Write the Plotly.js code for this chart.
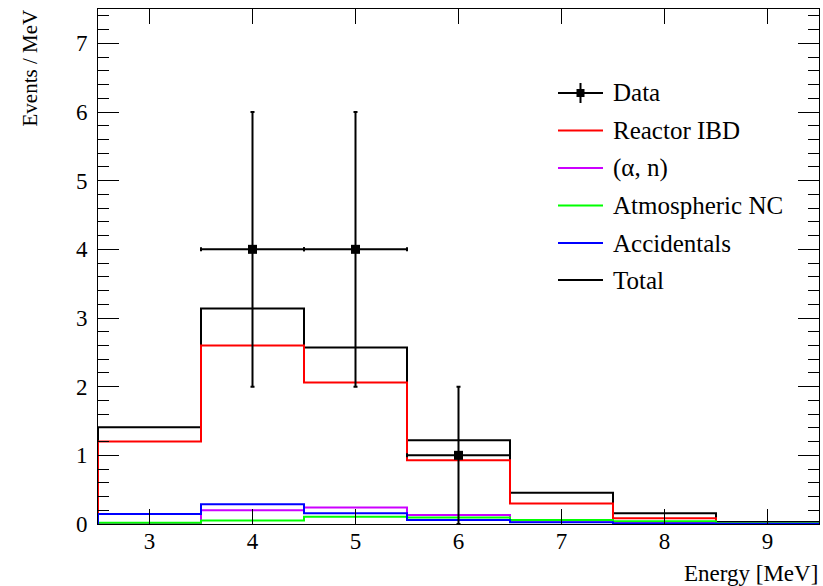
<!DOCTYPE html>
<html>
<head>
<meta charset="utf-8">
<script src="https://cdn.plot.ly/plotly-3.0.1.min.js"></script>
<style>html,body{margin:0;padding:0;background:#fff;}#chart{width:823px;height:586px;}</style>
</head>
<body>
<div id="chart"></div>
<script>
// Bin edges (MeV)
const binEdges = [2.5, 3.5, 4.5, 5.5, 6.5, 7.5, 8.5, 9.5];
// Histogram contents (Events / MeV) per bin
const totalVals     = [1.41, 3.14, 2.57, 1.22, 0.456, 0.156, 0.03];
const reactorVals   = [1.20, 2.60, 2.06, 0.93, 0.30, 0.083, 0.012];
const alphaNVals    = [0.01, 0.20, 0.24, 0.13, 0.05, 0.03, 0.008];
const atmNCVals     = [0.02, 0.05, 0.106, 0.095, 0.058, 0.04, 0.01];
const accidVals     = [0.146, 0.287, 0.156, 0.058, 0.025, 0.008, 0.004];
// Data points
const dataX    = [4, 5, 6];
const dataY    = [4, 4, 1];
const dataErrY = [2, 2, 1];
const dataErrX = [0.5, 0.5, 0.5];
// Legend labels
const legendNames = ["Data", "Reactor IBD", "(\u03B1, n)", "Atmospheric NC", "Accidentals", "Total"];
const legendColors = ["#000000", "#ff0000", "#cc00ff", "#00ff00", "#0000ff", "#000000"];

const FONT = "'Liberation Serif', 'Times New Roman', 'DejaVu Serif', serif";

function stepTrace(vals, color) {
  const xs = [binEdges[0]];
  const ys = [0];
  for (let i = 0; i < vals.length; i++) { xs.push(binEdges[i]); ys.push(vals[i]); }
  xs.push(binEdges[binEdges.length - 1]); ys.push(vals[vals.length - 1]);
  return {x: xs, y: ys, type: 'scatter', mode: 'lines', line: {shape: 'hv', color: color, width: 2}, showlegend: false, hoverinfo: 'skip'};
}

const traces = [
  stepTrace(totalVals, legendColors[5]),
  stepTrace(reactorVals, legendColors[1]),
  stepTrace(alphaNVals, legendColors[2]),
  stepTrace(atmNCVals, legendColors[3]),
  stepTrace(accidVals, legendColors[4]),
  {x: dataX, y: dataY, type: 'scatter', mode: 'markers',
   marker: {symbol: 'square', size: 9, color: '#000'},
   error_y: {type: 'data', array: dataErrY, color: '#000', thickness: 2, width: 2},
   error_x: {type: 'data', array: dataErrX, color: '#000', thickness: 2, width: 2},
   showlegend: false}
];

// Custom ROOT-like legend (paper coordinates)
const L = 98, R = 819, T = 9, B = 524;
const px = v => (v - L) / (R - L);
const py = v => (B - v) / (B - T);
const rowsY = [93, 130.5, 168, 205.5, 243, 280];
const shapes = [];
const annotations = [];
legendNames.forEach((name, i) => {
  const y = py(rowsY[i]);
  shapes.push({type: 'line', xref: 'paper', yref: 'paper', x0: px(558), x1: px(603), y0: y, y1: y, line: {color: legendColors[i], width: 2}});
  annotations.push({xref: 'paper', yref: 'paper', x: px(611), y: y, xanchor: 'left', yanchor: 'middle', text: name, showarrow: false, font: {family: FONT, size: 25, color: '#000'}});
});
shapes.push({type: 'line', xref: 'paper', yref: 'paper', x0: px(580.5), x1: px(580.5), y0: py(rowsY[0] - 10), y1: py(rowsY[0] + 10), line: {color: '#000', width: 2}});
shapes.push({type: 'rect', xref: 'paper', yref: 'paper', x0: px(576.5), x1: px(584.5), y0: py(rowsY[0] - 4), y1: py(rowsY[0] + 4), fillcolor: '#000', line: {width: 0}});

annotations.push({xref: 'paper', yref: 'paper', x: 1.002, y: py(573), xanchor: 'right', yanchor: 'middle', text: 'Energy [MeV]', showarrow: false, font: {family: FONT, size: 23, color: '#000'}});
annotations.push({xref: 'paper', yref: 'paper', x: px(30), y: py(8), xanchor: 'center', yanchor: 'top', textangle: -90, text: 'Events / MeV', showarrow: false, font: {family: FONT, size: 21, color: '#000'}});

const layout = {
  width: 823, height: 586,
  margin: {l: 98, r: 4, t: 9, b: 62},
  paper_bgcolor: '#fff', plot_bgcolor: '#fff',
  font: {family: FONT, size: 22, color: '#000'},
  showlegend: false,
  xaxis: {range: [2.5, 9.5], dtick: 1, tick0: 3, ticks: 'inside', ticklen: 15, tickwidth: 1, tickcolor: '#000',
          showline: true, linecolor: '#000', linewidth: 1, mirror: 'allticks', showgrid: false, zeroline: false,
          ticklabelstandoff: -4, tickfont: {family: FONT, size: 23}},
  yaxis: {range: [0, 7.5], dtick: 1, ticks: 'inside', ticklen: 21, tickwidth: 1, tickcolor: '#000',
          showline: true, linecolor: '#000', linewidth: 1, mirror: 'allticks', showgrid: false, zeroline: false,
          ticklabelstandoff: 5, tickfont: {family: FONT, size: 23},
          minor: {dtick: 0.2, ticks: 'inside', ticklen: 11, tickcolor: '#000', tickwidth: 1, showgrid: false}},
  shapes: shapes,
  annotations: annotations
};

Plotly.newPlot('chart', traces, layout, {staticPlot: true, displayModeBar: false});
</script>
</body>
</html>
